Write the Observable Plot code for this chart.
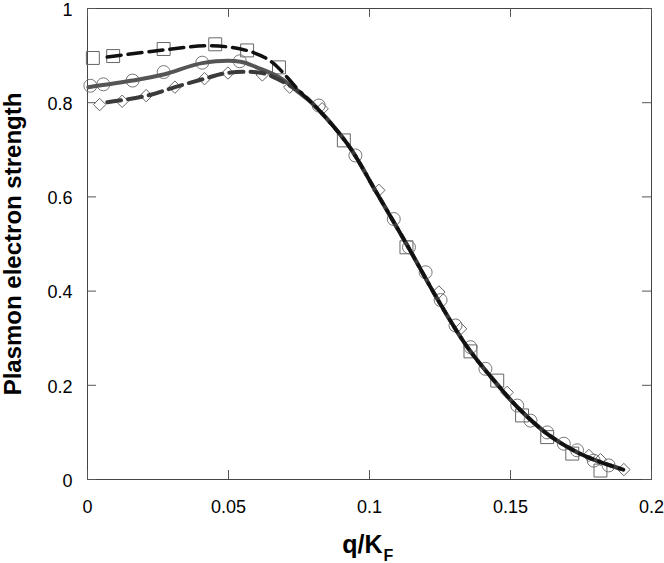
<!DOCTYPE html>
<html><head><meta charset="utf-8">
<script src="https://cdn.jsdelivr.net/npm/d3@7"></script>
<script src="https://cdn.jsdelivr.net/npm/@observablehq/plot@0.6"></script>
<style>
body{margin:0;background:#fff;font-family:"Liberation Sans",Arial,sans-serif;}
</style></head><body><div id="chart"></div>
<script>
const xTicks = [0, 0.05, 0.1, 0.15, 0.2];
const yTicks = [0, 0.2, 0.4, 0.6, 0.8, 1];
const xLabel = "q/K";
const xLabelSub = "F";
const yLabel = "Plasmon electron strength";

// markers (squares)
const sqX = [0.0019, 0.0091, 0.027, 0.0453, 0.0566, 0.0679, 0.0909, 0.1131, 0.1358, 0.1453, 0.1541, 0.163, 0.1719, 0.1819];
const sqY = [0.895, 0.899, 0.914, 0.924, 0.911, 0.875, 0.72, 0.493, 0.272, 0.21, 0.136, 0.09, 0.055, 0.019];
// markers (circles)
const ciX = [0.001, 0.0056, 0.016, 0.027, 0.0407, 0.054, 0.082, 0.095, 0.1086, 0.114, 0.1199, 0.1252, 0.1305, 0.1358, 0.1411, 0.1524, 0.1571, 0.163, 0.1689, 0.1736, 0.1795, 0.1848];
const ciY = [0.836, 0.839, 0.847, 0.865, 0.885, 0.888, 0.794, 0.688, 0.553, 0.493, 0.44, 0.381, 0.327, 0.281, 0.235, 0.157, 0.125, 0.1, 0.076, 0.062, 0.04, 0.03];
// markers (diamonds)
const diX = [0.0043, 0.0123, 0.0208, 0.031, 0.0415, 0.0498, 0.062, 0.0717, 0.0832, 0.1033, 0.1246, 0.1323, 0.1488, 0.1778, 0.1819, 0.1902];
const diY = [0.796, 0.803, 0.815, 0.833, 0.851, 0.863, 0.859, 0.833, 0.787, 0.614, 0.398, 0.32, 0.185, 0.051, 0.042, 0.021];

// fitted curves
const lineSqX = [0.007, 0.027, 0.044, 0.057, 0.065, 0.0708, 0.0755, 0.08, 0.0921, 0.1027, 0.1134, 0.124, 0.1347, 0.1453, 0.1524, 0.163, 0.1736, 0.1819, 0.19];
const lineSqY = [0.897, 0.912, 0.921, 0.91, 0.888, 0.854, 0.822, 0.797, 0.713, 0.607, 0.497, 0.384, 0.281, 0.202, 0.154, 0.097, 0.058, 0.037, 0.021];
const lineCiX = [0.0003, 0.016, 0.027, 0.0407, 0.0543, 0.06, 0.068, 0.0755, 0.08, 0.0921, 0.1027, 0.1134, 0.124, 0.1347, 0.1453, 0.1524, 0.163, 0.1736, 0.1819, 0.19];
const lineCiY = [0.833, 0.847, 0.86, 0.884, 0.887, 0.875, 0.854, 0.819, 0.797, 0.713, 0.607, 0.497, 0.384, 0.281, 0.202, 0.154, 0.097, 0.058, 0.037, 0.021];
const lineDiX = [0.007, 0.0212, 0.031, 0.0415, 0.0495, 0.062, 0.0684, 0.0755, 0.08, 0.0921, 0.1027, 0.1134, 0.124, 0.1347, 0.1453, 0.1524, 0.163, 0.1736, 0.1819, 0.19];
const lineDiY = [0.801, 0.815, 0.833, 0.851, 0.863, 0.863, 0.847, 0.822, 0.797, 0.713, 0.607, 0.497, 0.384, 0.281, 0.202, 0.154, 0.097, 0.058, 0.037, 0.021];

const pts = (xs, ys) => xs.map((x, i) => ({x, y: ys[i]}));
const squares = pts(sqX, sqY), circles = pts(ciX, ciY), diamonds = pts(diX, diY);
const lSq = pts(lineSqX, lineSqY), lCi = pts(lineCiX, lineCiY), lDi = pts(lineDiX, lineDiY);

const tx = 0.0032, ty = 0.019;
const chart = Plot.plot({
  width: 664, height: 563,
  marginLeft: 87, marginRight: 13, marginTop: 8, marginBottom: 84,
  style: {fontFamily: "Liberation Sans, Arial, sans-serif", color: "#000", background: "#fff"},
  x: {domain: [0, 0.2]},
  y: {domain: [0, 1]},
  marks: [
    Plot.frame({stroke: "#444", strokeWidth: 1}),
    Plot.ruleX(xTicks, {x: d => d, y1: 0, y2: ty, stroke: "#555"}),
    Plot.ruleX(xTicks, {x: d => d, y1: 1 - ty, y2: 1, stroke: "#555"}),
    Plot.ruleY(yTicks, {y: d => d, x1: 0, x2: tx, stroke: "#555"}),
    Plot.ruleY(yTicks, {y: d => d, x1: 0.2 - tx, x2: 0.2, stroke: "#555"}),
    Plot.axisX(xTicks, {tickSize: 0, tickPadding: 21, fontSize: 18, tickFormat: d => String(d), label: null}),
    Plot.axisY(yTicks, {tickSize: 0, tickPadding: 15, dy: 1.5, fontSize: 18, tickFormat: d => String(d), label: null}),
    Plot.dot(squares, {x: "x", y: "y", symbol: "square", r: 7.3, stroke: "#666", strokeWidth: 1, fill: "none"}),
    Plot.dot(circles, {x: "x", y: "y", symbol: "circle", r: 6.5, stroke: "#777", strokeWidth: 1, fill: "none"}),
    Plot.dot(diamonds, {x: "x", y: "y", symbol: "diamond2", r: 5.6, stroke: "#666", strokeWidth: 1, fill: "none"}),
    Plot.line(lCi, {x: "x", y: "y", stroke: "#555", strokeWidth: 4, curve: "catmull-rom"}),
    Plot.line(lDi, {x: "x", y: "y", stroke: "#3a3a3a", strokeWidth: 4, strokeDasharray: "14,7", curve: "catmull-rom"}),
    Plot.line(lSq, {x: "x", y: "y", stroke: "#111", strokeWidth: 3.5, strokeDasharray: "14,7", curve: "catmull-rom"}),
    Plot.text([yLabel], {frameAnchor: "left", textAnchor: "middle", rotate: -90, dx: -74, fontSize: 24, fontWeight: "bold", fill: "#000"}),
    Plot.text([xLabel], {frameAnchor: "bottom", textAnchor: "end", lineAnchor: "bottom", dx: 13, dy: 73, fontSize: 25, fontWeight: "bold", fill: "#000"}),
    Plot.text([xLabelSub], {frameAnchor: "bottom", textAnchor: "start", lineAnchor: "bottom", dx: 14, dy: 81, fontSize: 16, fontWeight: "bold", fill: "#000"})
  ]
});
document.getElementById("chart").appendChild(chart);
</script>
</body></html>
